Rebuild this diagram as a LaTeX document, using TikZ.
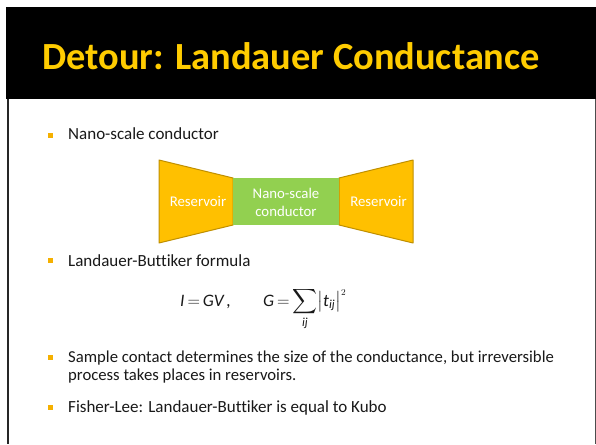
\documentclass[tikz,border=0pt]{standalone}
\usepackage{amsmath}
\usepackage{fontspec}
\setmainfont{Carlito}[Ligatures=NoCommon]
\definecolor{titleyellow}{RGB}{255,204,0}
\definecolor{bulletorange}{RGB}{245,176,0}
\definecolor{resgold}{RGB}{255,192,0}
\definecolor{resedge}{RGB}{191,143,0}
\definecolor{condgreen}{RGB}{146,208,80}
\definecolor{bodytext}{RGB}{25,25,25}
\tikzset{
  bulletsq/.style={fill=bulletorange, minimum size=5pt, inner sep=0pt, draw=none},
  bodytxt/.style={anchor=base west, inner sep=0pt, text=bodytext, font=\fontsize{17}{17}\selectfont},
  reservoir/.style={fill=resgold, draw=resedge, line width=1pt, line join=round},
  whitetxt/.style={text=white, font=\fontsize{14.8}{18}\selectfont, align=center, inner sep=0pt}
}
\begin{document}
\begin{tikzpicture}[x=1pt,y=-1pt]
\useasboundingbox (0,0) rectangle (596,444);
\fill[white] (0,0) rectangle (596,444);
% title band
\fill[black] (6,7) rectangle (596,99);
\node[anchor=base west, inner sep=0pt, text=titleyellow, font=\fontsize{38.4}{39}\selectfont\bfseries] (title) at (42,70) {Detour: Landauer Conductance};
% frame lines
\draw[line width=2pt, black!85] (8,99) -- (8,444);
\draw[line width=0.8pt, black!70] (595,99) -- (595,444);
% bullet 1
\node[bulletsq] (b1) at (50.5,135) {};
\node[bodytxt] (t1) at (68,139) {Nano-scale conductor};
% diagram
\draw[reservoir] (159,160) -- (233,178) -- (233,225) -- (159,243) -- cycle;
\draw[reservoir] (413,160) -- (339,178) -- (339,225) -- (413,243) -- cycle;
\fill[condgreen] (233,178) rectangle (339,225);
\node[whitetxt] (resl) at (198,201) {Reservoir};
\node[whitetxt] (resr) at (378.5,201) {Reservoir};
\node[whitetxt] (cond) at (286,202) {Nano-scale\\conductor};
% bullet 2
\node[bulletsq] (b2) at (50.5,260) {};
\node[bodytxt] (t2) at (68,266) {Landauer-Buttiker formula};
% formula
\node[anchor=base west, inner sep=0pt, text=bodytext, font=\fontsize{17.5}{17}\selectfont\itshape] (f1) at (180,306) {I\,$=$\,GV\,,};
\node[anchor=base west, inner sep=0pt, text=bodytext, font=\fontsize{17.5}{17}\selectfont] (f2) at (263,306)
  {$\textit{G}\,{=}\displaystyle\sum_{\textit{ij}}\bigl|\textit{t}_{\textit{ij}}\bigr|^{\scriptscriptstyle 2}$};
% bullet 3
\node[bulletsq] (b3) at (50.5,357.5) {};
\node[bodytxt, align=left, font=\fontsize{16.7}{18}\selectfont] (t3) at (68,380.5) {Sample contact determines the size of the conductance, but irreversible\\process takes places in reservoirs.};
% bullet 4
\node[bulletsq] (b4) at (50.5,407) {};
\node[bodytxt] (t4) at (68,412) {Fisher-Lee: Landauer-Buttiker is equal to Kubo};
\end{tikzpicture}
\end{document}
